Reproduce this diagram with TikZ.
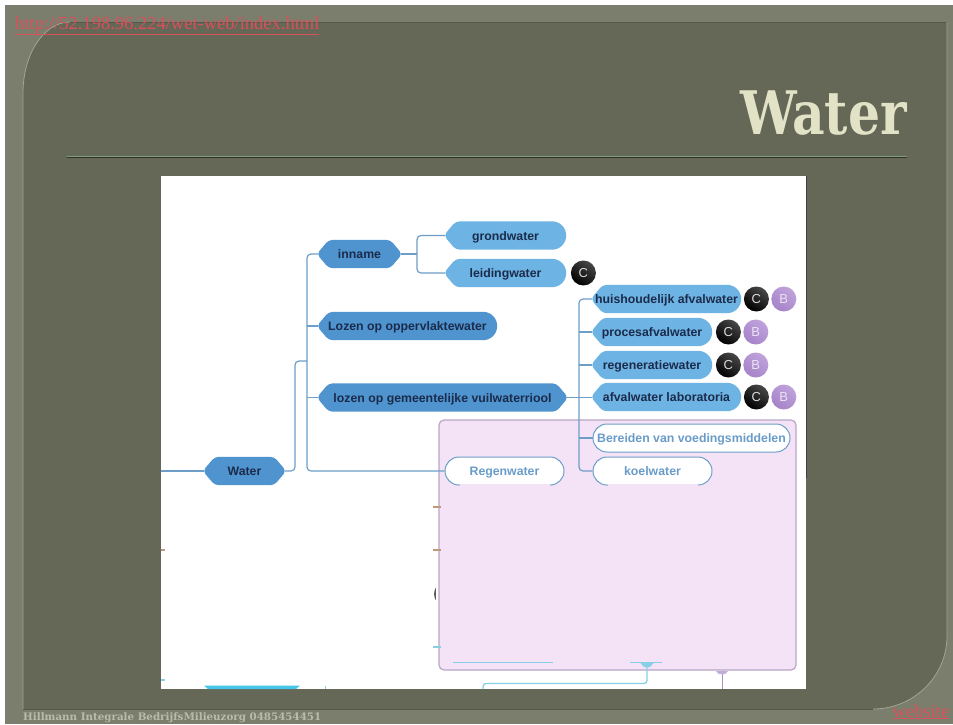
\documentclass[tikz,border=0pt]{standalone}
\usepackage{fontspec}
\setmainfont{Liberation Sans}
\newfontfamily\slabfont{DejaVu Serif}
\newfontfamily\linkfont{Liberation Serif}
\usepackage{tikz}
\usetikzlibrary{positioning,shapes.misc}

\definecolor{framecol}{HTML}{7B7E6C}
\definecolor{panelcol}{HTML}{656757}
\definecolor{panelline}{HTML}{A3A593}
\definecolor{paneldark}{HTML}{55574A}
\definecolor{rulelight}{HTML}{7F9F80}
\definecolor{ruledark}{HTML}{2E3026}
\definecolor{titlecol}{HTML}{E2E3C6}
\definecolor{linkcol}{HTML}{D9505A}
\definecolor{footcol}{HTML}{B9BBAC}
\definecolor{darkpill}{HTML}{4F94CF}
\definecolor{lightpill}{HTML}{6DB3E3}
\definecolor{pilltext}{HTML}{1B2B4B}
\definecolor{connline}{HTML}{6C9EC8}
\definecolor{whitetext}{HTML}{6A9CC9}
\definecolor{pinkbox}{HTML}{F4E3F6}
\definecolor{pinkline}{HTML}{B9A6C6}
\definecolor{tealline}{HTML}{86CFE6}
\definecolor{cyanbar}{HTML}{45C6E8}
\definecolor{purpline}{HTML}{C4AED8}
\definecolor{purplight}{HTML}{BFA3DC}
\definecolor{purpdark}{HTML}{A683C8}
\definecolor{brownline}{HTML}{C09A78}
\definecolor{sheetedge}{HTML}{3A4048}

\makeatletter
\pgfdeclareshape{leafpill}{
	\inheritsavedanchors[from=rectangle]
	\inheritanchorborder[from=rectangle]
	\inheritanchor[from=rectangle]{center}
	\inheritanchor[from=rectangle]{west}
	\inheritanchor[from=rectangle]{east}
	\backgroundpath{
		\southwest \edef\pilll{\the\pgf@x}\edef\pillb{\the\pgf@y}
		\northeast \edef\pillr{\the\pgf@x}\edef\pillt{\the\pgf@y}
		\pgfmathsetlengthmacro\pillh{(\pillt-\pillb)/2}
		\pgfmathsetlengthmacro\pillm{(\pillt+\pillb)/2}
		\pgfpathmoveto{\pgfpoint{\pilll+11pt}{\pillt}}
		\pgfpathlineto{\pgfpoint{\pillr-\pillh}{\pillt}}
		\pgfpatharc{90}{-90}{\pillh}
		\pgfsetcornersarced{\pgfqpoint{4pt}{4pt}}
		\pgfpathlineto{\pgfpoint{\pilll+11pt}{\pillb}}
		\pgfpathlineto{\pgfpoint{\pilll-1pt}{\pillm}}
		\pgfpathclose
	}
}
\pgfdeclareshape{hexpill}{
	\inheritsavedanchors[from=rectangle]
	\inheritanchorborder[from=rectangle]
	\inheritanchor[from=rectangle]{center}
	\inheritanchor[from=rectangle]{west}
	\inheritanchor[from=rectangle]{east}
	\backgroundpath{
		\southwest \edef\pilll{\the\pgf@x}\edef\pillb{\the\pgf@y}
		\northeast \edef\pillr{\the\pgf@x}\edef\pillt{\the\pgf@y}
		\pgfmathsetlengthmacro\pillm{(\pillt+\pillb)/2}
		\pgfsetcornersarced{\pgfqpoint{4pt}{4pt}}
		\pgfpathmoveto{\pgfpoint{\pilll+11pt}{\pillt}}
		\pgfpathlineto{\pgfpoint{\pillr-11pt}{\pillt}}
		\pgfpathlineto{\pgfpoint{\pillr+1pt}{\pillm}}
		\pgfpathlineto{\pgfpoint{\pillr-11pt}{\pillb}}
		\pgfpathlineto{\pgfpoint{\pilll+11pt}{\pillb}}
		\pgfpathlineto{\pgfpoint{\pilll-1pt}{\pillm}}
		\pgfpathclose
	}
}
\makeatother

\begin{document}
\begin{tikzpicture}[
	x=1pt,y=-1pt,
	pilltxt/.style={
		inner sep=0pt,
		minimum height=28pt,
		text height=10pt,text depth=1pt,
		text=pilltext,
		font=\fontsize{12.3}{14}\selectfont\bfseries
	},
	hexa/.style={
		pilltxt,shape=hexpill,
		fill=darkpill
	},
	darkleaf/.style={
		pilltxt,shape=leafpill,
		fill=darkpill
	},
	leaf/.style={
		pilltxt,shape=leafpill,
		fill=lightpill
	},
	openleaf/.style={
		pilltxt,rounded rectangle,
		draw=connline,line width=1pt,
		fill=white,
		text=whitetext
	},
	badgec/.style={
		circle,inner sep=0pt,minimum size=25pt,
		shading=axis,left color=black!72,right color=black,shading angle=-35,
		text=black!15,
		font=\fontsize{13}{14}\selectfont
	},
	badgeb/.style={
		circle,inner sep=0pt,minimum size=25pt,
		shading=axis,left color=purplight,right color=purpdark,shading angle=-35,
		text=white!70!purplight,
		font=\fontsize{13}{14}\selectfont
	},
	conn/.style={
		draw=connline,line width=1.2pt,
		rounded corners=4pt
	},
	weblink/.style={
		inner sep=0pt,anchor=base west,
		text=linkcol,
		font=\linkfont\fontsize{18.5}{20}\selectfont
	}
	]
	\useasboundingbox (0,0) rectangle (953,724);
	% slide background
	\fill[white] (0,0) rectangle (953,724);
	\fill[framecol] (5,5) rectangle (953,724);
	\fill[panelcol] (70,22) -- (947,22) -- (947,636)
		.. controls (947,676) and (914,709) .. (873,709) -- (23,709) -- (23,93)
		.. controls (23,54) and (44,22) .. (70,22) -- cycle;
	\draw[panelline,line width=.8pt] (23,709) -- (23,93)
		.. controls (23,54) and (44,22) .. (70,22);
	\draw[paneldark,line width=.8pt] (70,22) -- (947,22);
	\draw[panelline,line width=.8pt] (947,22) -- (947,636)
		.. controls (947,676) and (914,709) .. (873,709);
	\draw[paneldark,line width=1pt] (873,709) -- (23,709);
	\draw[ruledark,line width=1pt] (67,157.2) -- (907,157.2);
	\draw[rulelight,line width=1pt] (67,156.2) -- (907,156.2);
	\node[anchor=base east,inner sep=0pt,text=titlecol,xscale=.84,
		font=\slabfont\fontsize{60}{60}\selectfont\bfseries] (title) at (907,134) {Water};
	
	% white sheet and the pink box
	\fill[white] (161,176) rectangle (806,689);
	\draw[sheetedge,line width=1pt] (806.5,176) -- (806.5,478);
	\draw[pinkline,fill=pinkbox,line width=1.2pt,rounded corners=5pt] (439,420) rectangle (796,670);
	
	% nodes
	\node[hexa,minimum width=81pt] (water) at (244.5,471) {Water};
	\node[hexa,minimum width=83pt] (inname) at (359.5,254) {inname};
	\node[darkleaf,minimum width=179pt] (opper) at (407.5,326) {Lozen op oppervlaktewater};
	\node[hexa,minimum width=249pt] (gem) at (442.5,397.5) {lozen op gemeentelijke vuilwaterriool};
	
	\node[leaf,minimum width=121pt] (grond) at (505.5,235.5) {grondwater};
	\node[leaf,minimum width=121pt] (leid) at (505.5,273) {leidingwater};
	\node[badgec,right=4.5pt of leid] (leidc) {C};
	
	\node[leaf,minimum width=149pt] (huis) at (666.5,299) {huishoudelijk afvalwater};
	\node[badgec,right=2.5pt of huis] (huisc) {C};
	\node[badgeb,right=2pt of huisc] (huisb) {B};
	\node[leaf,minimum width=120pt] (proces) at (652,332) {procesafvalwater};
	\node[badgec,right=3.5pt of proces] (procesc) {C};
	\node[badgeb,right=2pt of procesc] (procesb) {B};
	\node[leaf,minimum width=120pt] (regen) at (652,365) {regeneratiewater};
	\node[badgec,right=3.5pt of regen] (regenc) {C};
	\node[badgeb,right=2pt of regenc] (regenb) {B};
	\node[leaf,minimum width=149pt] (afval) at (666.5,397) {afvalwater laboratoria};
	\node[badgec,right=2.5pt of afval] (afvalc) {C};
	\node[badgeb,right=2pt of afvalc] (afvalb) {B};
	
	\node[openleaf,minimum width=197pt] (voed) at (691.5,438) {Bereiden van voedingsmiddelen};
	\node[openleaf,minimum width=119pt] (koel) at (652.5,471) {koelwater};
	\node[openleaf,minimum width=119pt] (regenw) at (504.5,471) {Regenwater};
	% bottom stroke of the two open nodes is hidden
	\fill[pinkbox] (460,484.2) rectangle (550,486.5);
	\fill[pinkbox] (608,484.2) rectangle (698,486.5);
	
	% connectors
	\coordinate (wstart) at (161,471);
	\coordinate (wbend) at (295,361);
	\coordinate (htrunk) at (307,361);
	\coordinate (ibend) at (417,254);
	\coordinate (vtrunk) at (579,385);
	
	\draw[conn] (wstart) -- (water.west);
	\draw[conn] (water.east) -| (wbend) -- (htrunk);
	\draw[conn] (inname.west) -| (htrunk) |- (regenw.west);
	\draw[conn] (htrunk |- opper.west) -- (opper.west);
	\draw[conn] (htrunk |- gem.west) -- (gem.west);
	\draw[conn] (inname.east) -- (ibend);
	\draw[conn] (grond.west) -| (ibend) |- (leid.west);
	\draw[conn] (gem.east) -- (gem.east -| afval.west);
	\draw[conn] (huis.west) -| (vtrunk) |- (koel.west);
	\draw[conn] (vtrunk |- proces.west) -- (proces.west);
	\draw[conn] (vtrunk |- regen.west) -- (regen.west);
	\draw[conn] (vtrunk |- voed.west) -- (voed.west);
	
	% cut off pieces at the edges
	\draw[brownline,line width=1.3pt] (433,507) -- (441,507);
	\draw[brownline,line width=1.3pt] (433,550) -- (441,550);
	\draw[brownline,line width=1.3pt] (161,550) -- (165,550);
	\draw[tealline,line width=1.3pt] (433,647) -- (441,647);
	\draw[tealline,line width=1.3pt] (161,680) -- (165,680);
	\fill[black] (435.5,588) .. controls (434,592) and (434,596) .. (435.5,600) -- cycle;
	\fill[cyanbar] (204,685.5) -- (300,685.5) -- (296,689) -- (208,689) -- cycle;
	\draw[tealline,line width=1pt] (325.5,686) -- (325.5,689);
	\draw[tealline,line width=1pt] (453,662.5) -- (553,662.5);
	\draw[tealline,line width=1pt] (630,662.5) -- (662,662.5);
	\fill[tealline] (640,662.5) -- (654,662.5) -- (650,667) -- (644,667) -- cycle;
	\draw[tealline,line width=1.3pt,rounded corners=3pt] (647,667) |- (483,683.5) -- (483,689);
	\fill[purpline] (716,671) -- (728,671) -- (725,674) -- (719,674) -- cycle;
	\draw[purpline!85!black,line width=1pt] (722,674) -- (722,689);
	
	% links and footer
	\node[weblink] (ipsite) at (15,29) {\underline{http://52.198.96.224/wet-web/index.html}};
	\node[weblink,anchor=base east] (websitelink) at (949.5,717) {\underline{website}};
	\node[anchor=base west,inner sep=0pt,text=footcol,
		font=\slabfont\fontsize{10.3}{11}\selectfont\bfseries] (foot) at (23,720.5) {Hillmann Integrale BedrijfsMilieuzorg 0485454451};
\end{tikzpicture}
\end{document}
